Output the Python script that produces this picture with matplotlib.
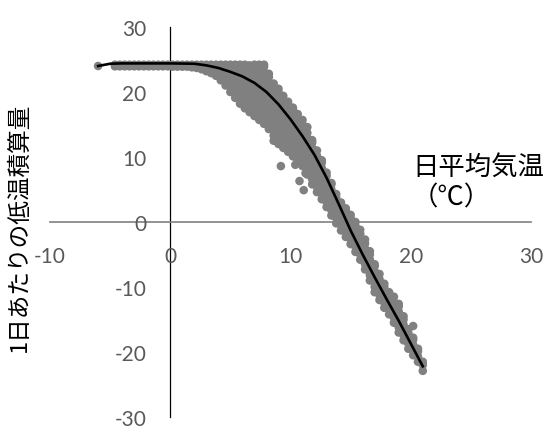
import matplotlib
matplotlib.use("Agg")
import matplotlib.pyplot as plt

plt.rcParams["axes.unicode_minus"] = False

# ---- data ----
# fitted curve
curve_temp = [-6.0, -5.0, -4.0, -2.0, 0.0, 2.0, 3.0, 4.0, 5.0, 6.0, 7.0, 8.0, 9.0,
              10.0, 11.0, 12.0, 13.0, 14.0, 15.0, 16.0, 17.0, 18.0, 19.0, 20.0, 21.0]
curve_chill = [24.0, 24.35, 24.4, 24.4, 24.4, 24.35, 24.1, 23.7, 23.1, 22.4, 21.4, 20.0, 18.1,
               15.8, 13.2, 10.3, 6.8, 2.8, -1.3, -5.0, -8.5, -11.9, -15.2, -18.7, -22.2]

# observations, grouped by temperature column: (temperature, [chill values])
cols_flat = [
    (-6.0, [24.0]),
    (-4.6, [23.95, 24.2]), (-4.2, [23.95, 24.2]), (-3.8, [23.95, 24.2]), (-3.4, [23.95, 24.2]),
    (-3.0, [23.95, 24.2]), (-2.6, [23.95, 24.2]), (-2.2, [23.95, 24.2]), (-1.8, [23.95, 24.2]),
    (-1.4, [23.95, 24.2]), (-1.0, [23.95, 24.2]), (-0.6, [23.95, 24.2]), (-0.2, [23.95, 24.2]),
    (0.2, [23.9, 24.2]), (0.6, [23.9, 24.2]), (1.0, [23.9, 24.2]), (1.4, [23.9, 24.2]),
    (1.8, [23.8, 24.2]), (2.2, [23.7, 24.2]), (2.6, [23.5, 24.2]),
]
cols_bend = [
    (3.0, [23.2, 23.8, 24.2]),
    (3.4, [22.9, 23.6, 24.2]),
    (3.8, [22.5, 23.2, 23.8, 24.2]),
    (4.2, [21.8, 22.5, 23.2, 23.8, 24.2]),
    (4.6, [21.0, 21.8, 22.6, 23.4, 24.2]),
    (5.0, [20.0, 20.8, 21.6, 22.4, 23.2, 24.2]),
    (5.4, [19.1, 19.9, 20.7, 21.5, 22.3, 23.1, 23.9, 24.2]),
    (5.8, [18.2, 19.0, 19.8, 20.6, 21.4, 22.2, 23.0, 23.8, 24.2]),
    (6.2, [17.5, 18.3, 19.1, 19.9, 20.7, 21.5, 22.3, 23.1, 23.9, 24.2]),
    (6.6, [16.9, 17.7, 18.5, 19.3, 20.1, 20.9, 21.7, 22.5, 23.3, 24.1]),
    (7.0, [16.3, 17.1, 17.9, 18.7, 19.5, 20.3, 21.1, 21.9, 22.7, 23.5, 24.2]),
    (7.4, [15.7, 16.5, 17.3, 18.1, 18.9, 19.7, 20.5, 21.3, 22.1, 22.9, 23.7, 24.2]),
    (7.8, [15.1, 15.9, 16.7, 17.5, 18.3, 19.1, 19.9, 20.7, 21.5, 22.3, 23.1, 23.9, 24.2]),
    (8.2, [14.3, 15.1, 15.9, 16.7, 17.5, 18.3, 19.1, 19.9, 20.7, 21.5, 22.3, 22.8]),
    (8.6, [12.5, 13.3, 14.1, 14.9, 15.7, 16.5, 17.3, 18.1, 18.9, 19.7, 20.5, 21.3]),
    (9.0, [12.0, 12.8, 13.6, 14.4, 15.2, 16.0, 16.8, 17.6, 18.4, 19.2, 20.0, 20.5]),
    (9.4, [11.4, 12.2, 13.0, 13.8, 14.6, 15.4, 16.2, 17.0, 17.8, 18.6, 19.4]),
    (9.8, [10.8, 11.6, 12.4, 13.2, 14.0, 14.8, 15.6, 16.4, 17.2, 18.0, 18.5]),
]
cols_steep = [
    (10.2, [10.1, 10.9, 11.7, 12.5, 13.3, 14.1, 14.9, 15.7, 16.5, 17.3, 17.6]),
    (10.6, [9.4, 10.2, 11.0, 11.8, 12.6, 13.4, 14.2, 15.0, 15.8, 16.6]),
    (11.0, [8.6, 9.4, 10.2, 11.0, 11.8, 12.6, 13.4, 14.2, 15.0, 15.7]),
    (11.4, [7.3, 8.1, 8.9, 9.7, 10.5, 11.3, 12.1, 12.9, 13.7, 14.6]),
    (11.8, [5.8, 6.6, 7.4, 8.2, 9.0, 9.8, 10.6, 11.4, 12.2, 12.6]),
    (12.2, [4.6, 5.4, 6.2, 7.0, 7.8, 8.6, 9.4, 10.2, 11.0]),
    (12.6, [3.5, 4.3, 5.1, 5.9, 6.7, 7.5, 8.3, 9.1, 9.5]),
    (13.0, [2.3, 3.1, 3.9, 4.7, 5.5, 6.3, 7.1, 7.6]),
    (13.4, [1.0, 1.8, 2.6, 3.4, 4.2, 5.0, 5.8, 6.0]),
    (13.8, [-0.2, 0.6, 1.4, 2.2, 3.0, 3.8, 4.3]),
    (14.2, [-1.3, -0.5, 0.3, 1.1, 1.9, 2.7, 3.0]),
    (14.6, [-2.3, -1.5, -0.7, 0.1, 0.9, 1.7, 2.1]),
    (15.0, [-3.4, -2.6, -1.8, -1.0, -0.2, 0.6, 1.1]),
    (15.4, [-4.6, -3.8, -3.0, -2.2, -1.4, -0.6, 0.0]),
    (15.8, [-5.8, -5.0, -4.2, -3.4, -2.6, -1.8, -1.2]),
]
cols_tail = [
    (16.2, [-7.3, -6.5, -5.7, -4.9, -4.1, -3.3, -2.7]),
    (16.6, [-9.0, -8.2, -7.4, -6.6, -5.8, -5.0, -4.5]),
    (17.0, [-10.8, -10.0, -9.2, -8.4, -7.6, -6.8, -6.5]),
    (17.4, [-12.0, -11.2, -10.4, -9.6, -8.8, -8.0]),
    (17.8, [-13.2, -12.4, -11.6, -10.8, -10.0, -9.5]),
    (18.2, [-14.2, -13.4, -12.6, -11.8, -11.0, -10.8]),
    (18.6, [-15.5, -14.7, -13.9, -13.1, -12.3, -11.5]),
    (19.0, [-17.0, -16.2, -15.4, -14.6, -13.8, -13.0, -12.6]),
    (19.4, [-18.2, -17.4, -16.6, -15.8, -15.0, -14.5]),
    (19.8, [-19.5, -18.7, -17.9, -17.1, -16.5]),
    (20.2, [-20.5, -19.7, -18.9, -18.1, -17.8, -16.0]),
    (20.6, [-21.5, -20.7, -19.9, -19.5]),
    (21.0, [-22.9, -22.0, -21.5]),
]
outlier_temp = [9.2, 10.4, 10.75, 11.25, 11.1]
outlier_chill = [8.6, 8.8, 6.3, 7.5, 4.9]

x_ticks = [-10, 0, 10, 20, 30]
y_ticks = [-30, -20, -10, 0, 10, 20, 30]
x_label = "日平均気温\n（℃）"
y_label = "1日あたりの低温積算量"

# ---- build point lists ----
obs_temp, obs_chill = [], []
for group in (cols_flat, cols_bend, cols_steep, cols_tail):
    for t, ys in group:
        for c in ys:
            obs_temp.append(t)
            obs_chill.append(c)
obs_temp += outlier_temp
obs_chill += outlier_chill

# ---- figure ----
W, H = 552, 435
fig = plt.figure(figsize=(W / 100, H / 100), dpi=100)
ax = fig.add_axes([50 / W, 1 - 418 / H, (531 - 50) / W, (418 - 28) / H])

ax.scatter(obs_temp, obs_chill, s=38, color="#808080", edgecolors="none", zorder=2)
ax.plot(curve_temp, curve_chill, color="black", lw=1.9, zorder=3)

ax.set_xlim(-10, 30)
ax.set_ylim(-30, 30)
ax.set_xticks(x_ticks)
ax.set_yticks(y_ticks)

for s in ("top", "right"):
    ax.spines[s].set_visible(False)
ax.spines["left"].set_position(("data", 0))
ax.spines["bottom"].set_position(("data", 0))
ax.spines["left"].set_color("black")
ax.spines["left"].set_linewidth(0.9)
ax.spines["bottom"].set_color("#808080")
ax.spines["bottom"].set_linewidth(1.2)
ax.spines["left"].set_zorder(1)
ax.spines["bottom"].set_zorder(1)

ax.tick_params(axis="both", length=0, labelcolor="#595959", labelsize=15)
ax.tick_params(axis="y", pad=17)
ax.tick_params(axis="x", pad=17)
for lab in ax.get_xticklabels() + ax.get_yticklabels():
    lab.set_fontfamily(["Lato", "DejaVu Sans"])

fig.text(19 / W, 1 - 227 / H, y_label, rotation=90, ha="center", va="center",
         fontsize=17, color="black", family=["Noto Sans CJK JP", "DejaVu Sans"])
fig.text(412 / W, 1 - 154 / H, x_label, ha="left", va="top", multialignment="left",
         fontsize=19, color="black", linespacing=1.15,
         family=["Noto Sans CJK JP", "DejaVu Sans"])

fig.savefig("out.png", dpi=100)
